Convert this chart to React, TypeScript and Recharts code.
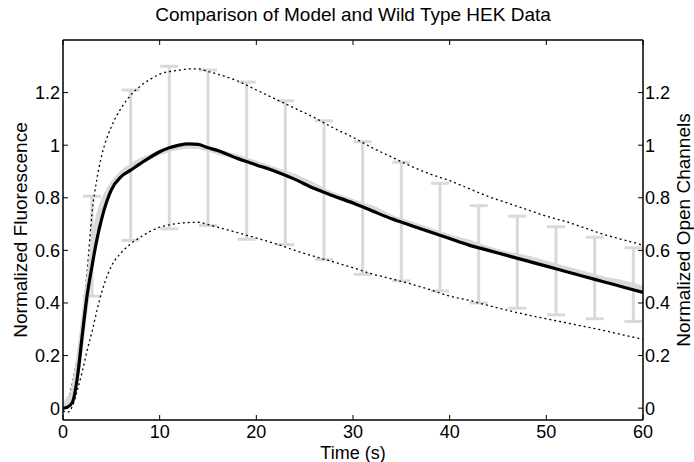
import { ComposedChart, Line, Scatter, ErrorBar, XAxis, YAxis, Label } from "recharts"

// time grid for the traces (s)
const time = [0, 0.5, 1, 1.5, 2, 2.5, 3, 3.5, 4, 5, 6, 7, 8, 9, 10, 11, 12, 13, 14, 15, 16, 18, 20, 22, 24, 26, 28, 30, 32, 34, 36, 38, 40, 42, 44, 46, 48, 50, 52, 54, 56, 58, 60]

const model = [0, 0.005, 0.025, 0.12, 0.28, 0.43, 0.54, 0.64, 0.72, 0.83, 0.88, 0.905, 0.93, 0.954, 0.975, 0.99, 1.0, 1.005, 1.003, 0.99, 0.98, 0.95, 0.925, 0.9, 0.87, 0.835, 0.807, 0.78, 0.75, 0.72, 0.695, 0.67, 0.645, 0.62, 0.6, 0.58, 0.56, 0.54, 0.52, 0.5, 0.48, 0.46, 0.44]

const wildType = [0, 0.03, 0.057, 0.15, 0.29, 0.44, 0.58, 0.7, 0.77, 0.845, 0.89, 0.92, 0.94, 0.955, 0.972, 0.985, 0.993, 0.997, 0.996, 0.986, 0.975, 0.955, 0.93, 0.905, 0.88, 0.845, 0.81, 0.785, 0.76, 0.725, 0.7, 0.675, 0.65, 0.63, 0.605, 0.585, 0.57, 0.55, 0.53, 0.51, 0.49, 0.475, 0.455]

const upperBound = [0, 0.03, 0.1, 0.2, 0.33, 0.52, 0.74, 0.87, 0.96, 1.07, 1.14, 1.19, 1.225, 1.25, 1.27, 1.28, 1.285, 1.29, 1.29, 1.28, 1.27, 1.245, 1.21, 1.175, 1.14, 1.105, 1.065, 1.03, 0.99, 0.955, 0.92, 0.89, 0.865, 0.835, 0.805, 0.78, 0.755, 0.73, 0.71, 0.685, 0.66, 0.64, 0.62]

const lowerBound = [-0.01, -0.015, 0.01, 0.07, 0.14, 0.22, 0.29, 0.37, 0.44, 0.54, 0.59, 0.625, 0.65, 0.672, 0.688, 0.697, 0.703, 0.706, 0.707, 0.698, 0.688, 0.668, 0.647, 0.625, 0.6, 0.577, 0.556, 0.534, 0.51, 0.492, 0.472, 0.45, 0.426, 0.41, 0.39, 0.372, 0.355, 0.34, 0.325, 0.31, 0.295, 0.278, 0.262]

// error bars of the wild type data
const errTime = [3, 7, 11, 15, 19, 23, 27, 31, 35, 39, 43, 47, 51, 55, 59]
const errLow = [0.426, 0.638, 0.682, 0.695, 0.642, 0.622, 0.565, 0.509, 0.484, 0.446, 0.4, 0.38, 0.355, 0.34, 0.33]
const errHigh = [0.806, 1.21, 1.3, 1.286, 1.24, 1.169, 1.093, 1.013, 0.935, 0.855, 0.77, 0.73, 0.69, 0.65, 0.61]

const xTicks = [0, 10, 20, 30, 40, 50, 60]
const yTicks = [0, 0.2, 0.4, 0.6, 0.8, 1, 1.2]

const traces = time.map((t, i) => ({
  t,
  model: model[i],
  wildType: wildType[i],
  upper: upperBound[i],
  lower: lowerBound[i],
}))

const errData = errTime.map((t, i) => ({
  t,
  mid: (errLow[i] + errHigh[i]) / 2,
  err: (errHigh[i] - errLow[i]) / 2,
}))

const font = "'Liberation Sans', Arial, Helvetica, sans-serif"
const tickStyle = { fill: "#000", fontSize: 18, fontFamily: font }

export default function App() {
  return (
    <div style={{ position: "absolute", left: 0, top: 0, width: 694, height: 462, background: "#fff", fontFamily: font }}>
      <ComposedChart width={694} height={462} data={traces} margin={{ top: 0, right: 0, bottom: 0, left: 0 }}>
        <XAxis
          dataKey="t"
          type="number"
          domain={[0, 60]}
          ticks={xTicks}
          allowDataOverflow
          height={42}
          tickSize={-5}
          tickMargin={10}
          tick={tickStyle}
          axisLine={{ stroke: "#000", strokeWidth: 1.5 }}
          tickLine={{ stroke: "#000" }}
        >
          <Label value="Time (s)" position="insideBottom" offset={3} style={{ fill: "#000", fontSize: 18, fontFamily: font }} />
        </XAxis>
        <XAxis
          xAxisId="top"
          orientation="top"
          dataKey="t"
          type="number"
          domain={[0, 60]}
          ticks={xTicks}
          allowDataOverflow
          height={40}
          tickSize={-5}
          tickFormatter={() => ""}
          axisLine={{ stroke: "#000", strokeWidth: 1.5 }}
          tickLine={{ stroke: "#000" }}
        >
          <Label value="Comparison of Model and Wild Type HEK Data" position="insideTop" offset={8} style={{ fill: "#000", fontSize: 19, fontFamily: font }} />
        </XAxis>
        <YAxis
          yAxisId="left"
          type="number"
          domain={[-0.045, 1.4]}
          ticks={yTicks}
          allowDataOverflow
          width={63}
          tickSize={-5}
          tickMargin={8}
          tick={tickStyle}
          tickFormatter={(v) => String(v)}
          axisLine={{ stroke: "#000", strokeWidth: 1.5 }}
          tickLine={{ stroke: "#000" }}
        >
          <Label value="Normalized Fluorescence" angle={-90} position="insideLeft" offset={20} style={{ fill: "#000", fontSize: 19, fontFamily: font, textAnchor: "middle" }} />
        </YAxis>
        <YAxis
          yAxisId="right"
          orientation="right"
          type="number"
          domain={[-0.045, 1.4]}
          ticks={yTicks}
          allowDataOverflow
          width={51}
          tickSize={-5}
          tickMargin={7}
          tick={tickStyle}
          tickFormatter={(v) => String(v)}
          axisLine={{ stroke: "#000", strokeWidth: 1.5 }}
          tickLine={{ stroke: "#000" }}
        >
          <Label value="Normalized Open Channels" angle={-90} position="insideRight" offset={11} style={{ fill: "#000", fontSize: 19, fontFamily: font, textAnchor: "middle" }} />
        </YAxis>

        <Scatter yAxisId="left" data={errData} dataKey="mid" fill="none" isAnimationActive={false}>
          <ErrorBar dataKey="err" direction="y" width={9} stroke="#d9d9d9" strokeWidth={3} />
        </Scatter>

        <Line yAxisId="left" dataKey="upper" type="monotone" stroke="#000" strokeWidth={1.3} strokeDasharray="2 3" dot={false} isAnimationActive={false} />
        <Line yAxisId="left" dataKey="lower" type="monotone" stroke="#000" strokeWidth={1.3} strokeDasharray="2 3" dot={false} isAnimationActive={false} />
        <Line yAxisId="left" dataKey="wildType" type="monotone" stroke="#d9d9d9" strokeWidth={5.5} dot={false} isAnimationActive={false} />
        <Line yAxisId="left" dataKey="model" type="monotone" stroke="#000" strokeWidth={3.2} dot={false} isAnimationActive={false} />
      </ComposedChart>
    </div>
  )
}
